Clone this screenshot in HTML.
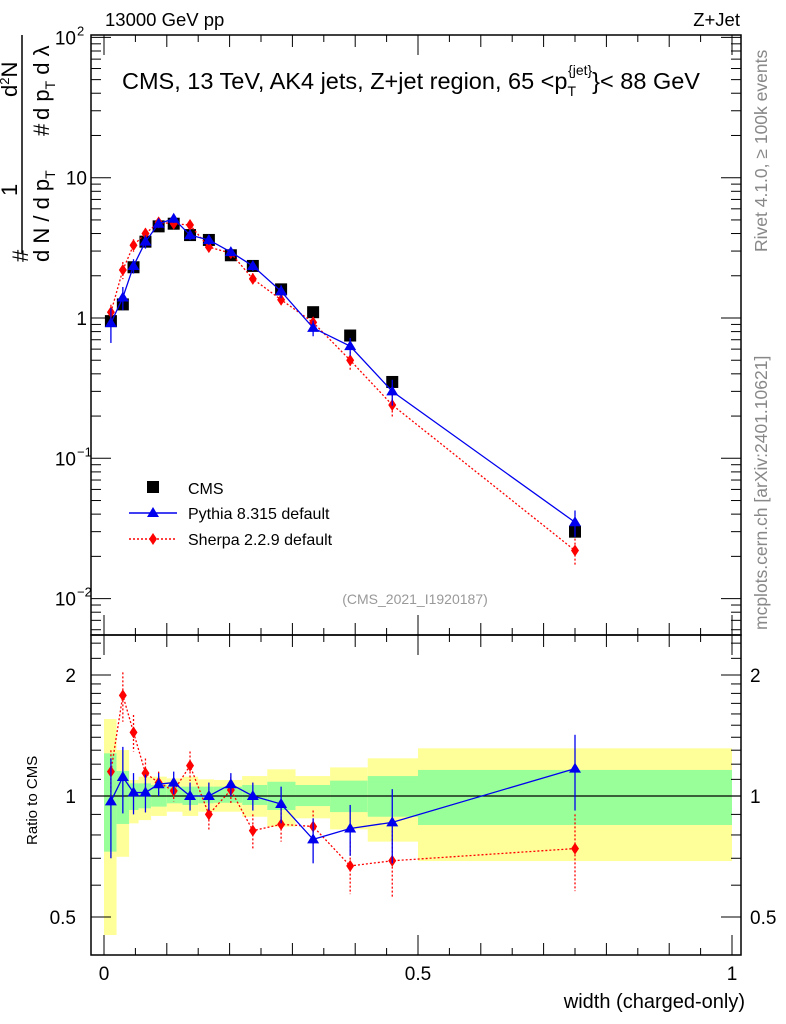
<!DOCTYPE html>
<html><head><meta charset="utf-8"><style>
body{margin:0;background:#fff;}
svg{display:block;font-family:"Liberation Sans",sans-serif;}
</style></head><body>
<svg id="chart" width="786" height="1024" viewBox="0 0 786 1024">
<g id="bands"></g>
<g id="grid"></g>
<g id="series"></g>
<text x="105" y="26" font-size="18.5">13000 GeV pp</text>
<text x="740" y="26" font-size="18.5" text-anchor="end">Z+Jet</text>
<text x="122" y="89" font-size="23.5">CMS, 13 TeV, AK4 jets, Z+jet region, 65 &lt;p<tspan font-size="14" dy="7">T</tspan><tspan font-size="14" dx="-8" dy="-21">{jet}</tspan><tspan dy="14">}&lt; 88 GeV</tspan></text>
<text x="415" y="604" font-size="14" fill="#999" text-anchor="middle">(CMS_2021_I1920187)</text>
<text transform="translate(767,252) rotate(-90)" font-size="17.5" fill="#888">Rivet 4.1.0, ≥ 100k events</text>
<text transform="translate(767,630) rotate(-90)" font-size="17.5" fill="#888">mcplots.cern.ch [arXiv:2401.10621]</text>
<g font-size="22">
<line x1="22" y1="35" x2="22" y2="253" stroke="#000" stroke-width="1.5"/>
<text transform="translate(28,262) rotate(-90)">#</text>
<text transform="translate(17,196) rotate(-90)">1</text>
<text transform="translate(49,262) rotate(-90)">d N / d p<tspan font-size="14" dy="6">T</tspan></text>
<text transform="translate(49,136) rotate(-90)">#</text>
<text transform="translate(17,97) rotate(-90)">d<tspan font-size="13" dy="-8">2</tspan><tspan dy="8">N</tspan></text>
<text transform="translate(49,120) rotate(-90)">d p<tspan font-size="14" dy="6">T</tspan><tspan dy="-6"> d λ</tspan></text>
</g>
<text transform="translate(37,845) rotate(-90)" font-size="15">Ratio to CMS</text>
<text x="745" y="1008" font-size="20" text-anchor="end">width (charged-only)</text>
<g>
<rect x="147" y="481" width="12" height="12" fill="#000"/>
<text x="188" y="494" font-size="16">CMS</text>
<line x1="129" y1="513" x2="177" y2="513" stroke="#0000ee" stroke-width="1.5"/>
<polygon points="153,507 159,517 147,517" fill="#0000ee"/>
<text x="188" y="519" font-size="16">Pythia 8.315 default</text>
<line x1="129" y1="539" x2="177" y2="539" stroke="#f00" stroke-width="1.5" stroke-dasharray="2,2"/>
<polygon points="153,533 157,539 153,545 149,539" fill="#f00"/>
<text x="188" y="545" font-size="16">Sherpa 2.2.9 default</text>
</g>
</svg>
<script>
const edges=[0,0.02,0.04,0.055,0.075,0.1,0.125,0.15,0.175,0.22,0.26,0.305,0.36,0.42,0.5,1.0];
const xs=[0.011,0.030,0.047,0.066,0.087,0.111,0.137,0.167,0.202,0.237,0.282,0.333,0.392,0.459,0.75];
const cms=[0.95,1.25,2.3,3.5,4.5,4.7,3.9,3.6,2.8,2.35,1.6,1.1,0.75,0.35,0.030];
const pythia=[0.92,1.4,2.35,3.5,4.7,5.1,3.9,3.6,2.95,2.35,1.55,0.85,0.63,0.30,0.035];
const sherpa=[1.1,2.2,3.3,4.0,4.8,4.7,4.6,3.2,2.9,1.9,1.35,0.93,0.5,0.24,0.022];
const pythiaRatio=[0.97,1.115,1.02,1.02,1.07,1.08,1.0,1.0,1.07,1.0,0.955,0.78,0.83,0.86,1.17];
const pythiaErr=[0.27,0.21,0.12,0.11,0.07,0.07,0.08,0.08,0.07,0.08,0.1,0.1,0.12,0.18,0.25];
const sherpaRatio=[1.15,1.78,1.44,1.14,1.08,1.03,1.19,0.90,1.035,0.82,0.85,0.84,0.67,0.69,0.74];
const sherpaErr=[0.15,0.25,0.15,0.1,0.07,0.06,0.1,0.08,0.08,0.08,0.08,0.08,0.1,0.13,0.16];
const yelHi=[1.554,1.301,1.096,1.117,1.117,1.106,1.117,1.10,1.096,1.121,1.165,1.121,1.178,1.241,1.314];
const yelLo=[0.451,0.706,0.855,0.871,0.892,0.914,0.892,0.914,0.914,0.888,0.839,0.880,0.826,0.770,0.689];
const grnHi=[1.277,1.154,1.075,1.075,1.065,1.055,1.055,1.055,1.055,1.065,1.085,1.065,1.092,1.121,1.161];
const grnLo=[0.727,0.852,0.923,0.932,0.941,0.959,0.950,0.959,0.962,0.950,0.923,0.944,0.912,0.888,0.847];
const NS='http://www.w3.org/2000/svg';
const L=91,R=741,T=35,M=635,B=955;
const X=v=>104+v*628;
const Y=v=>318-Math.log10(v)*140.3;
const YR=v=>796-Math.log10(v)*402;
function mk(par,tag,at){const e=document.createElementNS(NS,tag);for(const k in at)e.setAttribute(k,at[k]);document.getElementById(par).appendChild(e);return e;}
for(let i=0;i<edges.length-1;i++){
 const b=mk('bands','rect',{x:X(edges[i]),y:YR(yelHi[i]),width:X(edges[i+1])-X(edges[i]),height:YR(yelLo[i])-YR(yelHi[i]),fill:'#ffff99'});
 
 
 const g=mk('bands','rect',{x:X(edges[i]),y:YR(grnHi[i]),width:X(edges[i+1])-X(edges[i]),height:YR(grnLo[i])-YR(grnHi[i]),fill:'#99ff99'});
 
 
}
mk('grid','rect',{x:L,y:T,width:R-L,height:M-T,fill:'none',stroke:'#000','stroke-width':1.5});
mk('grid','rect',{x:L,y:M,width:R-L,height:B-M,fill:'none',stroke:'#000','stroke-width':1.5});
mk('grid','line',{x1:L,y1:YR(1),x2:R,y2:YR(1),stroke:'#000','stroke-width':1.2});
for(let d=-3;d<=2;d++){for(let k=1;k<10;k++){const v=k*Math.pow(10,d);const y=Y(v);if(y<T||y>M)continue;const len=k==1?20:10;
 mk('grid','line',{x1:L,y1:y,x2:L+len,y2:y,stroke:'#000'});mk('grid','line',{x1:R,y1:y,x2:R-len,y2:y,stroke:'#000'});}}
const mainExps=[2,1,0,-1,-2];
mainExps.forEach(e=>{const y=Y(Math.pow(10,e));
 const t=mk('grid','text',{x:(e==0||e==1)?87:76,y:y+7,'font-size':19,'text-anchor':'end'});t.textContent=(e==0?'1':'10');
 
 
 if(e!=0&&e!=1){const s=mk('grid','text',{x:77,y:y-2,'font-size':13});s.textContent=(e==2?'2':'−'+(-e));}
});
const rt=[0.4,0.5,0.6,0.7,0.8,0.9,1,1.1,1.2,1.3,1.4,1.5,1.6,1.7,1.8,1.9,2,2.2,2.4];
rt.forEach(v=>{const y=YR(v);if(y<M||y>B)return;const big=(v==0.5||v==1||v==2);const len=big?20:10;
 mk('grid','line',{x1:L,y1:y,x2:L+len,y2:y,stroke:'#000'});mk('grid','line',{x1:R,y1:y,x2:R-len,y2:y,stroke:'#000'});});
[[2,'2'],[1,'1'],[0.5,'0.5']].forEach(([v,s])=>{
 const a=mk('grid','text',{x:76,y:YR(v)+7,'font-size':19,'text-anchor':'end'});a.textContent=s;
 
 
 const b=mk('grid','text',{x:750,y:YR(v)+7,'font-size':19});b.textContent=s;
 
 });
for(let i=0;i<=20;i++){const v=i*0.05;const x=X(v);const len=(i%10==0)?20:(i%2==0?12:7);
 [M,B].forEach(yb=>mk('grid','line',{x1:x,y1:yb,x2:x,y2:yb-len,stroke:'#000'}));
 [T,M].forEach(yt=>mk('grid','line',{x1:x,y1:yt,x2:x,y2:yt+len,stroke:'#000'}));}
[[0,'0'],[0.5,'0.5'],[1,'1']].forEach(([v,s])=>{const t=mk('grid','text',{x:X(v),y:980,'font-size':19,'text-anchor':'middle'});t.textContent=s;
 
 });
function line(vals,yf,color,dash,name){
 const p=mk('series','polyline',{points:xs.map((x,i)=>X(x)+','+yf(vals[i])).join(' '),fill:'none',stroke:color,'stroke-width':1.3,'stroke-dasharray':dash});
 
 }
function errs(vals,ratio,errA,yf,color,dash,isRatio){
 xs.forEach((x,i)=>{const f=errA[i]/ratio[i];const hi=isRatio?vals[i]+errA[i]:vals[i]*(1+f);const lo=isRatio?vals[i]-errA[i]:vals[i]*(1-f);
  const e=mk('series','line',{x1:X(x),y1:yf(hi),x2:X(x),y2:yf(lo),stroke:color,'stroke-width':1.3,'stroke-dasharray':dash});
  
  });}
function tri(x,y,name){const p=mk('series','polygon',{points:`${x},${y-6} ${x+6},${y+4} ${x-6},${y+4}`,fill:'#0000ee'});
 
 }
function dia(x,y,name){const p=mk('series','polygon',{points:`${x},${y-6} ${x+4},${y} ${x},${y+6} ${x-4},${y}`,fill:'#f00'});
 
 }
xs.forEach((x,i)=>{const r=mk('series','rect',{x:X(x)-6,y:Y(cms[i])-6,width:12,height:12,fill:'#000'});
 
 });
errs(sherpa,sherpaRatio,sherpaErr,Y,'#f00','2,2',false);
line(sherpa,Y,'#f00','2,2','sherpa-line');
xs.forEach((x,i)=>dia(X(x),Y(sherpa[i]),'sherpa-point'));
errs(pythia,pythiaRatio,pythiaErr,Y,'#0000ee','',false);
line(pythia,Y,'#0000ee','','pythia-line');
xs.forEach((x,i)=>tri(X(x),Y(pythia[i]),'pythia-point'));
errs(sherpaRatio,sherpaRatio,sherpaErr,YR,'#f00','2,2',true);
line(sherpaRatio,YR,'#f00','2,2','sherpa-ratio-line');
xs.forEach((x,i)=>dia(X(x),YR(sherpaRatio[i]),'sherpa-ratio-point'));
errs(pythiaRatio,pythiaRatio,pythiaErr,YR,'#0000ee','',true);
line(pythiaRatio,YR,'#0000ee','','pythia-ratio-line');
xs.forEach((x,i)=>tri(X(x),YR(pythiaRatio[i]),'pythia-ratio-point'));
</script>
</body></html>
